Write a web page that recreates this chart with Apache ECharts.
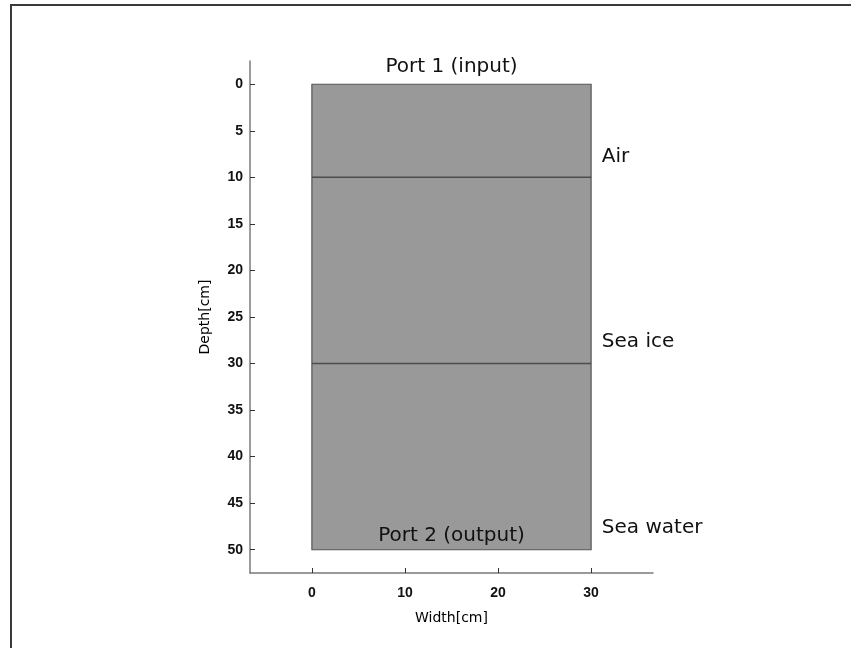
<!DOCTYPE html>
<html>
<head>
<meta charset="utf-8">
<script src="https://cdn.jsdelivr.net/npm/echarts@6/dist/echarts.min.js"></script>
<style>
  html, body { margin: 0; padding: 0; background: #fff; }
  #chart { width: 851px; height: 648px; }
</style>
</head>
<body>
<div id="chart"></div>
<script>
// Model domain: a 30 cm wide, 50 cm deep column with layer interfaces
const domainWidth = [0, 30];
const domainDepth = [0, 50];
const interfaceDepths = [10, 30];

// Tick labels
const xTicks = [0, 10, 20, 30];
const yTicks = [0, 5, 10, 15, 20, 25, 30, 35, 40, 45, 50];

// Annotations: text, x (cm), depth (cm), alignment
const annotTexts = ['Port 1 (input)', 'Port 2 (output)', 'Air', 'Sea ice', 'Sea water'];
const annotX = [15, 15, 31.15, 31.15, 31.15];
const annotY = [-1.9, 48.55, 7.75, 27.7, 47.6];
const annotAlign = ['center', 'center', 'left', 'left', 'left'];

const chart = echarts.init(document.getElementById('chart'), null, { renderer: 'canvas' });

const tickFont = { fontFamily: 'Liberation Sans', fontSize: 14, fontWeight: 'bold', color: '#111' };
const nameFont = { fontFamily: 'DejaVu Sans', fontSize: 14, color: '#000' };

const option = {
  animation: false,
  backgroundColor: '#fff',
  graphic: [{
    type: 'rect',
    shape: { x: 11, y: 5, width: 900, height: 700 },
    style: { fill: 'none', stroke: '#3a3a3a', lineWidth: 2 },
    silent: true
  }],
  grid: { left: 250, right: 198, top: 61, bottom: 75 },
  xAxis: {
    type: 'value',
    min: -6.65,
    max: 36.65,
    name: 'Width[cm]',
    nameLocation: 'middle',
    nameGap: 38,
    nameTextStyle: nameFont,
    axisLine: { show: true, onZero: false, lineStyle: { color: '#7a7a7a', width: 1.5 } },
    axisTick: { show: true, inside: true, length: 5, customValues: xTicks, lineStyle: { color: '#333', width: 1 } },
    axisLabel: Object.assign({ customValues: xTicks, margin: 13 }, tickFont),
    splitLine: { show: false }
  },
  yAxis: {
    type: 'value',
    inverse: true,
    min: -2.5,
    max: 52.5,
    name: 'Depth[cm]',
    nameLocation: 'middle',
    nameGap: 38,
    nameRotate: 90,
    nameTextStyle: nameFont,
    axisLine: { show: true, onZero: false, lineStyle: { color: '#7a7a7a', width: 1.5 } },
    axisTick: { show: true, inside: true, length: 5, customValues: yTicks, lineStyle: { color: '#333', width: 1 } },
    axisLabel: Object.assign({ customValues: yTicks, margin: 7 }, tickFont),
    splitLine: { show: false }
  },
  series: [
    {
      // Filled domain rectangle
      type: 'custom',
      renderItem: function (params, api) {
        const p0 = api.coord([api.value(0), api.value(2)]);
        const p1 = api.coord([api.value(1), api.value(3)]);
        return {
          type: 'rect',
          shape: {
            x: Math.min(p0[0], p1[0]),
            y: Math.min(p0[1], p1[1]),
            width: Math.abs(p1[0] - p0[0]),
            height: Math.abs(p1[1] - p0[1])
          },
          style: { fill: '#999999', stroke: '#555555', lineWidth: 1.2 }
        };
      },
      data: [[domainWidth[0], domainWidth[1], domainDepth[0], domainDepth[1]]],
      z: 1
    },
    // Layer interfaces
    ...interfaceDepths.map(d => ({
      type: 'line',
      data: [[domainWidth[0], d], [domainWidth[1], d]],
      symbol: 'none',
      lineStyle: { color: '#4d4d4d', width: 1.5 },
      z: 2
    })),
    {
      // Text annotations placed at data coordinates
      type: 'custom',
      renderItem: function (params, api) {
        const i = params.dataIndex;
        const p = api.coord([api.value(0), api.value(1)]);
        return {
          type: 'text',
          x: p[0],
          y: p[1],
          style: {
            text: annotTexts[i],
            font: '20px "DejaVu Sans"',
            fill: '#111',
            align: annotAlign[i],
            verticalAlign: 'middle'
          }
        };
      },
      data: annotTexts.map((t, i) => [annotX[i], annotY[i]]),
      z: 3
    }
  ]
};

chart.setOption(option);
</script>
</body>
</html>
